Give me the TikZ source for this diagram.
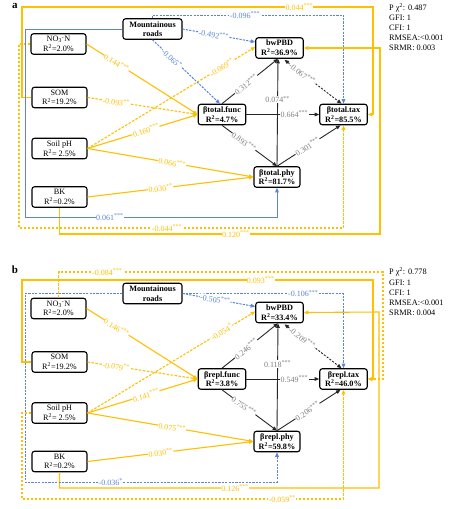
\documentclass[tikz,border=0pt]{standalone}
\usepackage{fontspec}
\setmainfont{Liberation Serif}
\usetikzlibrary{arrows.meta,calc}
\definecolor{ylw}{HTML}{FFC000}
\definecolor{blu}{HTML}{5B85D9}
\definecolor{gry}{HTML}{7F7F7F}
\newcommand{\sig}[1]{\textsuperscript{#1}}
\begin{document}
\begin{tikzpicture}[x=1pt,y=-1pt,
  box/.style={draw=black, line width=1.1pt, rounded corners=2.5pt, align=center, inner sep=0pt, minimum height=20.5pt, fill=white, font=\fontsize{8.2}{9.6}\selectfont},
  lbox/.style={box, minimum width=55pt},
  bbox/.style={box, minimum width=47.5pt, font=\fontsize{8.2}{9.6}\selectfont\bfseries},
  arr/.style={-{Triangle[length=4.5pt,width=3.6pt]}},
  ys/.style={draw=ylw, line width=1.1pt, arr},
  yd/.style={ys, dash pattern=on 2.5pt off 1.5pt},
  bs/.style={draw=blu, line width=1pt, arr},
  bd/.style={bs, dash pattern=on 2.2pt off 1.2pt},
  ks/.style={draw=black!85, line width=0.9pt, arr},
  kd/.style={ks, dash pattern=on 2pt off 1.5pt, {Triangle[length=4.5pt,width=3.6pt]}-{Triangle[length=4.5pt,width=3.6pt]}},
  lab/.style={font=\fontsize{8}{9}\selectfont, fill=white, inner sep=0.4pt},
  ylab/.style={lab, text=ylw},
  blab/.style={lab, text=blu},
  klab/.style={lab, text=gry},
  stat/.style={anchor=base west, inner sep=0pt, font=\fontsize{8.3}{10}\selectfont},
  plab/.style={anchor=base, inner sep=0pt, font=\fontsize{11}{12}\selectfont\bfseries}
]
\path[fill=white, use as bounding box] (0,0) rectangle (450,509);

% ================= panel a =================
\node[plab] (pa) at (15,8) {a};
\node[stat] (sa1) at (389,10) {P χ\textsuperscript{2}: 0.487};
\node[stat] (sa2) at (389,20.7) {GFI: 1};
\node[stat] (sa3) at (389,30.7) {CFI: 1};
\node[stat] (sa4) at (389,40.7) {RMSEA:<0.001};
\node[stat] (sa5) at (389,50.7) {SRMR: 0.003};

\node[lbox] (a-no3) at (58.5,44) {NO\textsubscript{3}\textsuperscript{-}N\\R\textsuperscript{2}=2.0\%};
\node[lbox] (a-som) at (59.5,97.5) {SOM\\R\textsuperscript{2}=19.2\%};
\node[lbox] (a-ph) at (59.5,148.5) {Soil pH\\R\textsuperscript{2}= 2.5\%};
\node[lbox] (a-bk) at (59.5,197) {BK\\R\textsuperscript{2}=0.2\%};
\node[bbox, minimum width=59pt] (a-mr) at (152.5,29) {Mountainous\\roads};
\node[bbox] (a-bw) at (279.5,48) {bwPBD\\R\textsuperscript{2}=36.9\%};
\node[bbox] (a-fn) at (222,114.5) {βtotal.func\\R\textsuperscript{2}=4.7\%};
\node[bbox] (a-tx) at (343.5,114.5) {βtotal.tax\\R\textsuperscript{2}=85.5\%};
\node[bbox, minimum width=46pt] (a-py) at (277,177) {βtotal.phy\\R\textsuperscript{2}=81.7\%};

\coordinate (a-bwin) at ($(a-bw.south)+(-1.5,0)$);
\coordinate (a-bwu) at ($(a-bw.west)+(0,-6)$);
\coordinate (a-bwl) at ($(a-bw.west)+(0,-1)$);
\coordinate (a-fnn) at ($(a-fn.north)+(-2,0)$);
\coordinate (a-txs) at ($(a-tx.south)+(-3,0)$);
\coordinate (a-dk1) at ($(a-bw.south)+(5,1)$);
\coordinate (a-dk2) at ($(a-tx.north)+(-2,0)$);

% long routes
\draw[ys] (a-som.west) -- (22,97.5) -- (22,7) -- node[ylab,pos=0.79]{0.044\sig{***}} (373,7) -- (373,114.5) -- (a-tx.east);
\draw[yd] (a-no3.west) -- (19,44) -- (19,228) -- node[ylab,pos=0.456]{-0.044\sig{***}} (343.5,228) -- (a-tx.south);
\draw[ys] (a-bk.south) -- (59.5,234) -- node[ylab,pos=0.55]{0.120\sig{***}} (380,234) -- (380,48) -- (a-bw.east);
\draw[bd] (a-mr.north) -- (152.5,15) -- node[blab,pos=0.484]{-0.096\sig{***}} (343.5,15) -- (a-tx.north);
\draw[bs] (a-mr.west) -- (25,29) -- (25,217) -- node[blab,pos=0.337]{0.061\sig{***}} (277,217) -- (a-py.south);

% yellow
\draw[ys] (a-no3.east) -- node[ylab,sloped,pos=0.27]{0.144\sig{***}} (a-fn.west);
\draw[yd] (a-som.east) -- node[ylab,sloped,pos=0.26]{-0.093\sig{**}} (a-fn.west);
\draw[ys] (a-ph.east) -- node[ylab,sloped,pos=0.53]{0.160\sig{***}} (a-fn.west);
\draw[yd] (a-ph.east) -- node[ylab,sloped,pos=0.8]{-0.069\sig{**}} (a-bwl);
\draw[ys] (a-ph.east) -- node[ylab,sloped,pos=0.51]{0.066\sig{***}} (a-py.west);
\draw[ys] (a-bk.east) -- node[ylab,sloped,pos=0.44]{0.030\sig{**}} (a-py.west);
% blue
\draw[bd] (a-mr.east) -- node[blab,sloped,pos=0.43]{-0.492\sig{***}} (a-bwu);
\draw[bd] (a-mr.south) -- node[blab,sloped,pos=0.29]{-0.065\sig{*}} (a-fnn);
% black
\draw[ks] (a-fn.north) -- node[klab,sloped,pos=0.43]{0.312\sig{***}} (a-bwin);
\draw[ks] (a-py.north) -- node[klab,pos=0.62]{0.074\sig{**}} (a-bwin);
\draw[ks] (a-fn.east) -- node[klab,pos=0.66]{0.664\sig{***}} (a-tx.west);
\draw[kd] (a-dk1) -- node[klab,sloped,pos=0.31]{-0.067\sig{***}} (a-dk2);
\draw[ks] (a-fn.south) -- node[klab,sloped,pos=0.4]{0.893\sig{***}} (a-py.north);
\draw[ks] (a-py.north) -- node[klab,sloped,pos=0.48]{0.301\sig{***}} (a-txs);

% ================= panel b =================
\node[plab] (pb) at (15,273) {b};
\node[stat] (sb1) at (389,274.5) {P χ\textsuperscript{2}: 0.778};
\node[stat] (sb2) at (389,285.2) {GFI: 1};
\node[stat] (sb3) at (389,295.2) {CFI: 1};
\node[stat] (sb4) at (389,305.2) {RMSEA:<0.001};
\node[stat] (sb5) at (389,315.2) {SRMR: 0.004};

\begin{scope}[shift={(0,264.5)}]
\node[lbox] (b-no3) at (58.5,44) {NO\textsubscript{3}\textsuperscript{-}N\\R\textsuperscript{2}=2.0\%};
\node[lbox] (b-som) at (59.5,97.5) {SOM\\R\textsuperscript{2}=19.2\%};
\node[lbox] (b-ph) at (59.5,148.5) {Soil pH\\R\textsuperscript{2}= 2.5\%};
\node[lbox] (b-bk) at (59.5,197) {BK\\R\textsuperscript{2}=0.2\%};
\node[bbox, minimum width=59pt] (b-mr) at (152.5,29) {Mountainous\\roads};
\node[bbox] (b-bw) at (279.5,48) {bwPBD\\R\textsuperscript{2}=33.4\%};
\node[bbox] (b-fn) at (222,114.5) {βrepl.func\\R\textsuperscript{2}=3.8\%};
\node[bbox] (b-tx) at (343.5,114.5) {βrepl.tax\\R\textsuperscript{2}=46.0\%};
\node[bbox, minimum width=46pt] (b-py) at (277,177) {βrepl.phy\\R\textsuperscript{2}=59.8\%};

\coordinate (b-bwin) at ($(b-bw.south)+(-1.5,0)$);
\coordinate (b-bwu) at ($(b-bw.west)+(0,-6)$);
\coordinate (b-bwl) at ($(b-bw.west)+(0,-1)$);
\coordinate (b-txs) at ($(b-tx.south)+(-3,0)$);
\coordinate (b-dk1) at ($(b-bw.south)+(5,1)$);
\coordinate (b-dk2) at ($(b-tx.north)+(-2,0)$);

% long routes
\draw[ys] (b-som.west) -- (22,97.5) -- (22,15.5) -- node[ylab,pos=0.68]{0.093\sig{***}} (373,15.5) -- (373,114.5) -- (b-tx.east);
\draw[yd] (b-no3.north) -- (58.5,7.5) -- node[ylab,pos=0.15]{-0.084\sig{***}} (383,7.5) -- (383,114.5) -- (b-tx.east);
\draw[ys] (b-bk.south) -- (59.5,223.5) -- node[ylab,pos=0.55]{0.126\sig{***}} (379,223.5) -- (379,47.5) -- (b-bw.east);
\draw[yd] (b-ph.west) -- (22,148.5) -- (22,234.5) -- node[ylab,pos=0.81]{-0.059\sig{**}} (343.5,234.5) -- (b-tx.south);
\draw[bd] (b-mr.west) -- (25,29) -- (25,217.5) -- node[blab,pos=0.34]{-0.036\sig{*}} (277,217.5) -- (b-py.south);
\draw[bd] (b-mr.east) -- node[blab,pos=0.75]{-0.106\sig{***}} (343.5,29) -- (b-tx.north);

% yellow
\draw[ys] (b-no3.east) -- node[ylab,sloped,pos=0.27]{0.146\sig{***}} (b-fn.west);
\draw[yd] (b-som.east) -- node[ylab,sloped,pos=0.26]{-0.079\sig{**}} (b-fn.west);
\draw[ys] (b-ph.east) -- node[ylab,sloped,pos=0.53]{0.141\sig{***}} (b-fn.west);
\draw[yd] (b-ph.east) -- node[ylab,sloped,pos=0.8]{-0.054\sig{*}} (b-bwl);
\draw[ys] (b-ph.east) -- node[ylab,sloped,pos=0.51]{0.075\sig{***}} (b-py.west);
\draw[ys] (b-bk.east) -- node[ylab,sloped,pos=0.44]{0.030\sig{**}} (b-py.west);
% blue
\draw[bd] (b-mr.east) -- node[blab,sloped,pos=0.45]{-0.505\sig{***}} (b-bwu);
% black
\draw[ks] (b-fn.north) -- node[klab,sloped,pos=0.43]{0.246\sig{***}} (b-bwin);
\draw[ks] (b-py.north) -- node[klab,pos=0.62]{0.118\sig{***}} (b-bwin);
\draw[ks] (b-fn.east) -- node[klab,pos=0.66]{0.549\sig{***}} (b-tx.west);
\draw[kd] (b-dk1) -- node[klab,sloped,pos=0.31]{-0.209\sig{***}} (b-dk2);
\draw[ks] (b-fn.south) -- node[klab,sloped,pos=0.4]{0.755\sig{***}} (b-py.north);
\draw[ks] (b-py.north) -- node[klab,sloped,pos=0.48]{0.206\sig{***}} (b-txs);
\end{scope}
\end{tikzpicture}
\end{document}
